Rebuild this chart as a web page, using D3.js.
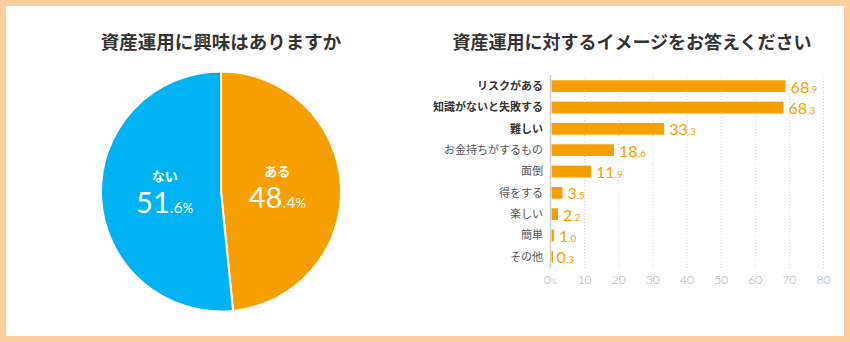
<!DOCTYPE html>
<html><head><meta charset="utf-8">
<script src="https://cdn.jsdelivr.net/npm/d3@7"></script>
<style>
body{margin:0;padding:0;background:#fff;}
svg{display:block;}
</style></head>
<body>
<svg id="c" width="850" height="342"></svg>
<script>
const pieTitle = "資産運用に興味はありますか";
const pieLabels = ["ある", "ない"];
const pieValues = [48.4, 51.6];
const barTitle = "資産運用に対するイメージをお答えください";
const categories = ["リスクがある","知識がないと失敗する","難しい","お金持ちがするもの","面倒","得をする","楽しい","簡単","その他"];
const boldCats = [true,true,true,false,false,false,false,false,false];
const barValues = [68.9,68.3,33.3,18.6,11.9,3.5,2.2,1.0,0.3];
const xTicks = [0,10,20,30,40,50,60,70,80];

const ORANGE = "#F79F00", BLUE = "#00B2F2";
const JP = "'Noto Sans CJK JP','Noto Sans',sans-serif";
const NUM = "Lato,'Noto Sans',sans-serif";

const svg = d3.select("#c");
svg.append("rect").attr("x",3).attr("y",3).attr("width",844).attr("height",336)
  .attr("fill","#fff").attr("stroke","#FBCF9B").attr("stroke-width",6);

// ---- Pie ----
const cx = 221, cy = 191.5, R = 120;
svg.append("text").attr("x",cx).attr("y",49).attr("text-anchor","middle")
  .attr("font-family",JP).attr("font-weight",700).attr("font-size",18.5).attr("fill","#333").text(pieTitle);
const pie = d3.pie().sort(null).value(d=>d)(pieValues);
const arc = d3.arc().innerRadius(0).outerRadius(R);
const gp = svg.append("g").attr("transform",`translate(${cx},${cy})`);
const cols = [ORANGE, BLUE];
gp.selectAll("path").data(pie).join("path").attr("d",arc)
  .attr("fill",(d,i)=>cols[i]).attr("stroke","#fff").attr("stroke-width",2);
const labArc = d3.arc().innerRadius(R*0.47).outerRadius(R*0.47);
pie.forEach((d,i)=>{
  const [lx,ly] = labArc.centroid(d);
  const g = gp.append("g").attr("transform",`translate(${lx},${ly-2})`);
  g.append("text").attr("y",-11).attr("text-anchor","middle").attr("font-family",JP)
    .attr("font-weight",700).attr("font-size",13).attr("fill","#fff").text(pieLabels[i]);
  const parts = pieValues[i].toFixed(1).split(".");
  const t = g.append("text").attr("y",21).attr("text-anchor","middle").attr("font-family",NUM).attr("fill","#fff");
  t.append("tspan").attr("font-size",29).attr("font-weight",400).text(parts[0]);
  t.append("tspan").attr("font-size",16).text("."+parts[1]);
  t.append("tspan").attr("font-size",13).text("%");
});

// ---- Bars ----
svg.append("text").attr("x",632).attr("y",49).attr("text-anchor","middle")
  .attr("font-family",JP).attr("font-weight",700).attr("font-size",18).attr("fill","#333").text(barTitle);
const x = d3.scaleLinear().domain([0,80]).range([550.5,823.5]);
const y = d3.scaleBand().domain(categories).range([76,267]).paddingInner(0.45).paddingOuter(0.2);
// grid
svg.append("g").selectAll("line").data(xTicks.slice(1)).join("line")
  .attr("x1",d=>x(d)).attr("x2",d=>x(d)).attr("y1",75).attr("y2",268)
  .attr("stroke","#d0d0d0").attr("stroke-width",1).attr("stroke-dasharray","1,2");
// bars
svg.append("g").selectAll("rect").data(barValues).join("rect")
  .attr("x",x(0)+1).attr("y",(d,i)=>y(categories[i]))
  .attr("width",d=>Math.max(1.5,x(d)-x(0)-1)).attr("height",y.bandwidth()).attr("fill",ORANGE);
// axis line
svg.append("line").attr("x1",x(0)).attr("x2",x(0)).attr("y1",75).attr("y2",268).attr("stroke","#ccc").attr("stroke-width",1.5);
// category labels
svg.append("g").selectAll("text").data(categories).join("text")
  .attr("x",543).attr("y",d=>y(d)+y.bandwidth()/2).attr("dy","0.36em").attr("text-anchor","end")
  .attr("font-family",JP).attr("font-size",11).attr("font-weight",(d,i)=>boldCats[i]?700:400)
  .attr("fill",(d,i)=>boldCats[i]?"#333":"#555").text(d=>d);
// value labels
barValues.forEach((v,i)=>{
  const parts = v.toFixed(1).split(".");
  const t = svg.append("text").attr("x",x(v)+5).attr("y",y(categories[i])+y.bandwidth()/2).attr("dy","0.4em")
    .attr("font-family",NUM).attr("fill",ORANGE);
  t.append("tspan").attr("font-size",16).text(parts[0]);
  t.append("tspan").attr("font-size",10).text("."+parts[1]);
});
// x tick labels
xTicks.forEach(v=>{
  const t = svg.append("text").attr("x",x(v)).attr("y",284).attr("text-anchor","middle")
    .attr("font-family",NUM).attr("font-weight",300).attr("fill","#aaa");
  t.append("tspan").attr("font-size",12).text(v);
  if(v===0) t.append("tspan").attr("font-size",8).text("%");
});
</script>
</body></html>
